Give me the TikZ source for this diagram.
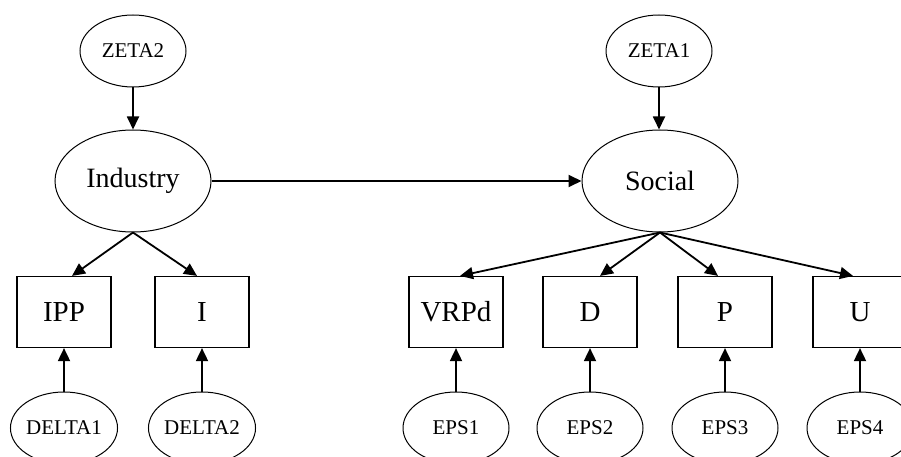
\documentclass[tikz,border=0pt]{standalone}
\usepackage{fontspec}
\setmainfont{Liberation Serif}
\usetikzlibrary{arrows.meta,shapes.geometric,calc}
\begin{document}
\begin{tikzpicture}[x=1pt,y=-1pt,
  lat/.style={ellipse,draw,line width=1pt,minimum width=156pt,minimum height=102pt,inner sep=0pt,font=\fontsize{28}{30}\selectfont},
  err/.style={ellipse,draw,line width=1pt,minimum width=106pt,minimum height=72pt,inner sep=0pt,font=\fontsize{21}{23}\selectfont},
  obs/.style={rectangle,draw,line width=1.2pt,minimum width=94pt,minimum height=71pt,inner sep=0pt,font=\fontsize{29}{31}\selectfont},
  arr/.style={-{Triangle[length=13pt,width=12pt]},line width=1.8pt}]
\useasboundingbox (0,0) rectangle (901,457);
\clip (0,0) rectangle (901,457);
% left part
\node[err] (zeta2) at (133,51) {ZETA2};
\node[lat] (industry) at (133,181) {Industry};
\node[obs] (ipp) at (64,312) {IPP};
\node[obs] (i) at (202,312) {I};
\node[err] (delta1) at (64,428) {DELTA1};
\node[err] (delta2) at (202,428) {DELTA2};
% right part
\node[err] (zeta1) at (659,51) {ZETA1};
\node[lat] (social) at (660,181) {Social};
\node[obs] (vrpd) at (456,312) {VRPd};
\node[obs] (d) at (590,312) {D};
\node[obs] (p) at (725,312) {P};
\node[obs] (u) at (860,312) {U};
\node[err] (eps1) at (456,428) {EPS1};
\node[err] (eps2) at (590,428) {EPS2};
\node[err] (eps3) at (725,428) {EPS3};
\node[err] (eps4) at (860,428) {EPS4};
% connectors
\draw[arr] (zeta2) -- (industry);
\draw[arr] (zeta1.south) -- (zeta1.south |- social.north);
\draw[arr] (industry.east) -- (social.west);
\draw[arr] (industry.south) -- ($(ipp.north)+(8,0)$);
\draw[arr] (industry.south) -- ($(i.north)+(-5,0)$);
\draw[arr] (social.south) -- ($(vrpd.north)+(4,0)$);
\draw[arr] (social.south) -- ($(d.north)+(10,0)$);
\draw[arr] (social.south) -- ($(p.north)+(-7,0)$);
\draw[arr] (social.south) -- ($(u.north)+(-7,0)$);
\draw[arr] (delta1) -- (ipp);
\draw[arr] (delta2) -- (i);
\draw[arr] (eps1) -- (vrpd);
\draw[arr] (eps2) -- (d);
\draw[arr] (eps3) -- (p);
\draw[arr] (eps4) -- (u);
\end{tikzpicture}
\end{document}
